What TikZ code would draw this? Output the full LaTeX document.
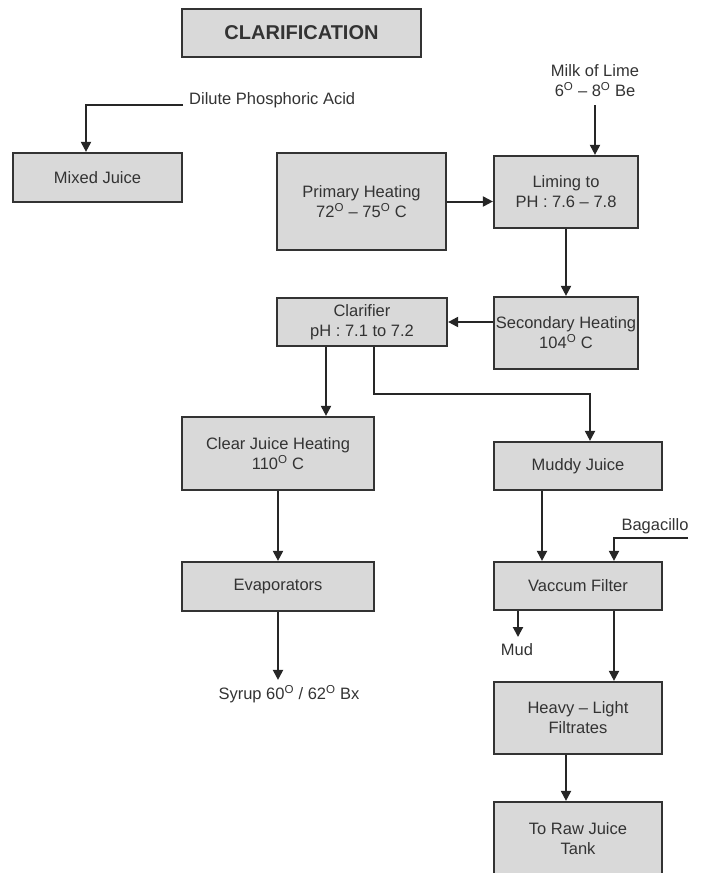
\documentclass[tikz,border=0pt]{standalone}
\usepackage{fontspec}
\setmainfont{Liberation Sans}
\usetikzlibrary{arrows.meta}
\newcommand{\degO}{\textsuperscript{O}}
\definecolor{boxgray}{HTML}{D9D9D9}
\definecolor{inkgray}{HTML}{333333}

\begin{document}
\begin{tikzpicture}[x=1pt,y=-1pt,
  stage/.style={draw=inkgray, line width=2.2pt, fill=boxgray, text=inkgray, align=center, inner sep=0pt, font=\fontsize{16.5}{20}\selectfont},
  note/.style={text=inkgray, align=center, inner sep=0pt, font=\fontsize{16.5}{20}\selectfont},
  flow/.style={draw=black!85, line width=2pt, -{Triangle[length=10pt,width=10pt]}}]
\useasboundingbox (0,0) rectangle (707,873);
\clip (0,0) rectangle (707,873);

\node[stage, minimum width=239pt, minimum height=48pt, font=\fontsize{20}{24}\selectfont\bfseries] (title) at (301.5,33) {CLARIFICATION};
\node[stage, minimum width=169pt, minimum height=49pt] (mixed) at (97.5,177.5) {Mixed Juice};
\node[stage, minimum width=169pt, minimum height=97pt] (primary) at (361.5,201.5) {Primary Heating\\72\degO{} -- 75\degO{} C};
\node[stage, minimum width=144pt, minimum height=72pt] (liming) at (566,192) {Liming to\\PH : 7.6 -- 7.8};
\node[stage, minimum width=144pt, minimum height=72pt] (secondary) at (566,333) {Secondary Heating\\104\degO{} C};
\node[stage, minimum width=170pt, minimum height=48pt] (clarifier) at (362,322) {Clarifier\\pH : 7.1 to 7.2};
\node[stage, minimum width=192pt, minimum height=73pt] (clear) at (278,453.5) {Clear Juice Heating\\110\degO{} C};
\node[stage, minimum width=192pt, minimum height=49pt] (evap) at (278,586.5) {Evaporators};
\node[stage, minimum width=168pt, minimum height=48pt] (muddy) at (578,466) {Muddy Juice};
\node[stage, minimum width=168pt, minimum height=48pt] (vaccum) at (578,586) {Vaccum Filter};
\node[stage, minimum width=168pt, minimum height=72pt] (heavy) at (578,718) {Heavy -- Light\\Filtrates};
\node[stage, minimum width=168pt, minimum height=74pt] (raw) at (578,839) {To Raw Juice\\Tank};

\node[note, anchor=base west] (acidtxt) at (189,104) {Dilute Phosphoric Acid};
\node[note] (lime) at (595,81) {Milk of Lime\\6\degO{} -- 8\degO{} Be};
\node[note] (syrup) at (289,694) {Syrup 60\degO{} / 62\degO{} Bx};
\node[note, anchor=base] (bagtxt) at (655,530) {Bagacillo};
\node[note] (mud) at (517,650) {Mud};

\coordinate (acid) at (183,105);
\coordinate (limein) at (595,105);
\coordinate (split) at (590,394);
\coordinate (bag) at (688,538);
\coordinate (mudin) at (518,637);

\path[flow] (acid) -| ([xshift=-11.5pt]mixed.north);
\path[flow] (limein) -- (limein |- liming.north);
\path[flow] (primary.east) -- (primary.east -| liming.west);
\path[flow] (liming.south) -- (secondary.north);
\path[flow] (secondary.west |- clarifier.east) -- (clarifier.east);
\path[flow] ([xshift=-36pt]clarifier.south) -- ([xshift=-36pt]clarifier.south |- clear.north);
\path[flow] ([xshift=12pt]clarifier.south) |- (split) -- (split |- muddy.north);
\path[flow] (clear.south) -- (evap.north);
\path[flow] (evap.south) -- ([yshift=5pt]evap.south |- syrup.north);
\path[flow] ([xshift=-36pt]muddy.south) -- ([xshift=-36pt]vaccum.north);
\path[flow] (bag) -| ([xshift=36pt]vaccum.north);
\path[flow] ([xshift=-60pt]vaccum.south) -- (mudin);
\path[flow] ([xshift=36pt]vaccum.south) -- ([xshift=36pt]heavy.north);
\path[flow] ([xshift=-12pt]heavy.south) -- ([xshift=-12pt]raw.north);
\end{tikzpicture}
\end{document}
